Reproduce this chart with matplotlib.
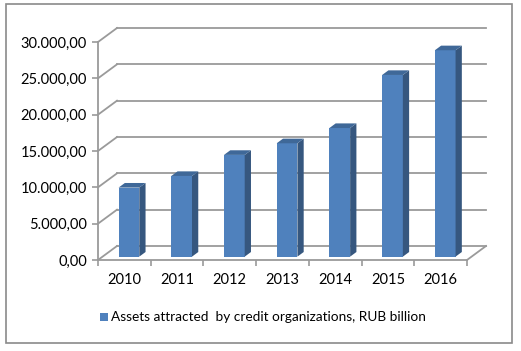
import matplotlib
matplotlib.use("Agg")
import matplotlib.pyplot as plt
from matplotlib.patches import Rectangle, Polygon

years = ["2010", "2011", "2012", "2013", "2014", "2015", "2016"]
values = [9500, 11100, 14000, 15600, 17700, 25000, 28400]
y_ticks = [0, 5000, 10000, 15000, 20000, 25000, 30000]
legend_label = "Assets attracted  by credit organizations, RUB billion"

def fmt(v):
    s = f"{v:,.2f}"
    return s.replace(",", "X").replace(".", ",").replace("X", ".")

plt.rcParams['font.family'] = ['Lato', 'DejaVu Sans']

W, H = 521, 351
fig = plt.figure(figsize=(W / 100, H / 100), dpi=100)
fig.patch.set_facecolor("white")

# outer border
fig.add_artist(Rectangle((6 / W, 1 - 343 / H), 506 / W, 339 / H, transform=fig.transFigure,
                         fill=False, edgecolor="#8a8a8a", lw=1.2))

ax = fig.add_axes([98 / W, 1 - 260 / H, 369 / W, 218 / H])
n = len(years)
ymax = 30000
ax.set_xlim(0, n)
ax.set_ylim(0, ymax)
for s in ax.spines.values():
    s.set_visible(False)
ax.patch.set_alpha(0)

DX = 19 / 52.7
DY = 14 / 218 * ymax
grid_c = "#9a9a9a"

# back wall gridlines + side diagonals
for v in y_ticks:
    ax.plot([0, DX], [v, v + DY], color=grid_c, lw=1.3, clip_on=False, zorder=1)
    ax.plot([DX, n + DX], [v + DY, v + DY], color=grid_c, lw=1.3, clip_on=False, zorder=1)
# floor
ax.plot([0, n], [0, 0], color=grid_c, lw=1.3, clip_on=False, zorder=1)
ax.plot([n, n + DX], [0, DY], color=grid_c, lw=1.3, clip_on=False, zorder=1)
# front value axis
ax.plot([0, 0], [0, ymax], color=grid_c, lw=1.3, clip_on=False, zorder=1)

# bars
f0, f1 = 0.24, 0.57
bw = 0.393
front_c, side_c, top_c = "#4f81bd", "#36577f", "#3f6898"
xs = [i + 0.5 + f0 * DX for i in range(n)]
base = f0 * DY
ax.bar(xs, values, width=bw, bottom=base, color=front_c, zorder=3, clip_on=False)
ddx = (f1 - f0) * DX
ddy = (f1 - f0) * DY
for x, v in zip(xs, values):
    xl, xr = x - bw / 2, x + bw / 2
    top = base + v
    ax.add_patch(Polygon([[xr, base], [xr + ddx, base + ddy], [xr + ddx, top + ddy], [xr, top]],
                         closed=True, facecolor=side_c, edgecolor="none", zorder=3, clip_on=False))
    ax.add_patch(Polygon([[xl, top], [xr, top], [xr + ddx, top + ddy], [xl + ddx, top + ddy]],
                         closed=True, facecolor=top_c, edgecolor="none", zorder=3, clip_on=False))

# ticks
ax.set_yticks(y_ticks)
ax.set_yticklabels([fmt(v) for v in y_ticks], fontsize=10.5)
ax.set_xticks(range(n + 1))
ax.set_xticklabels([""] * (n + 1))
ax.set_xticks([i + 0.5 for i in range(n)], minor=True)
ax.set_xticklabels(years, minor=True, fontsize=10.5)
ax.tick_params(axis="y", length=4, width=1.2, color=grid_c, pad=4)
ax.tick_params(axis="x", which="major", length=4, width=1.2, color=grid_c)
ax.tick_params(axis="x", which="minor", length=0, pad=9)

# legend
fig.add_artist(Rectangle((100 / W, 1 - 321 / H), 8 / W, 8 / H, transform=fig.transFigure,
                         facecolor=front_c, edgecolor="none"))
fig.text(111 / W, 1 - 317 / H, legend_label, fontsize=9.8, va="center", ha="left")

fig.savefig("out.png", dpi=100)
